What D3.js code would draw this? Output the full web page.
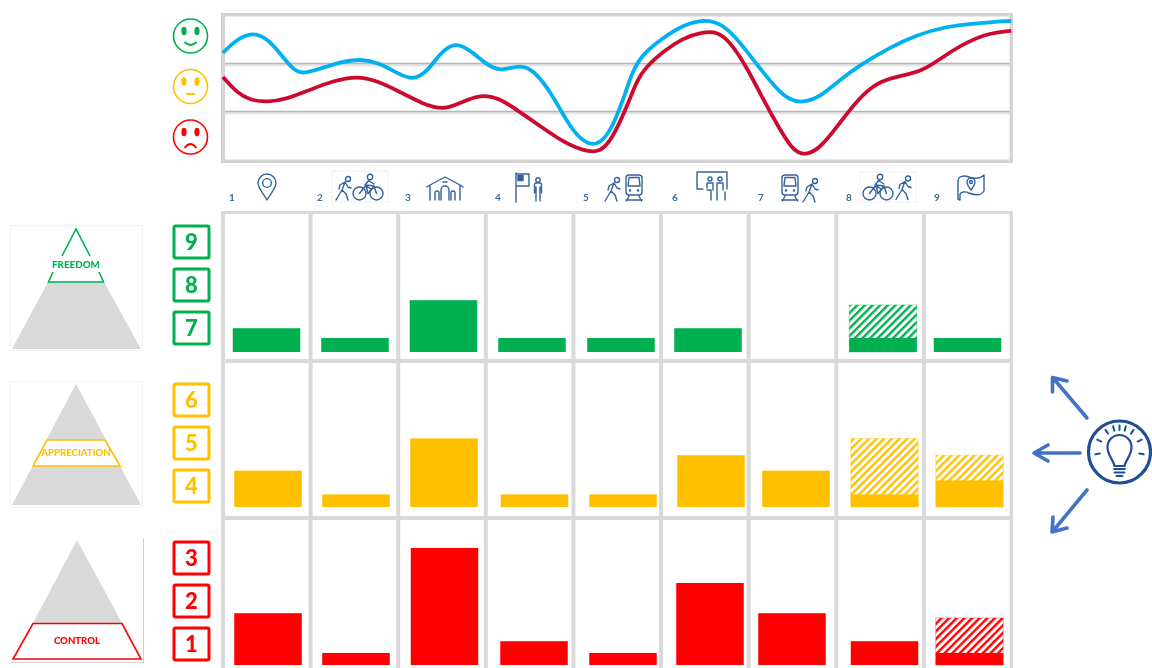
<!DOCTYPE html>
<html lang="en">
<head>
  <meta charset="UTF-8">
  <title>Journey satisfaction and needs</title>
  <script src="https://d3js.org/d3.v7.min.js"></script>
  <style>
    body { margin: 0; background: #fff; overflow: hidden; }
    svg { display: block; filter: blur(0.35px); }
    text { font-family: Lato, "Open Sans", sans-serif; font-weight: 900; }
    .stop { font-weight: 700; }
    .ic { fill: none; stroke: #33629c; stroke-width: 1.4; stroke-linecap: round; stroke-linejoin: round; }
  </style>
</head>
<body>
<svg id="chart" width="1152" height="668">
  <defs>
    <symbol id="walker" overflow="visible">
      <g class="ic"><circle cx="13" cy="3" r="2.5"/><path d="M10,6 L7,14 L1,24 M7,14 L11,18 L13,24 M10,6 L5,9 L4,13 M10,6 L13,11 L16,12"/></g>
    </symbol>
    <symbol id="bike" overflow="visible">
      <g class="ic"><circle cx="6.5" cy="19.5" r="6.5"/><circle cx="23.5" cy="19.5" r="6.5"/><circle cx="17" cy="3" r="2.7"/><path d="M6.5,19.5 L13,11 L21,12 L23.5,19.5 M13,11 L15,19.5 L21,12 M16,6 L12,11 L18,15 M16,7 L21,10"/></g>
    </symbol>
    <symbol id="train" overflow="visible">
      <g class="ic"><rect x="0" y="0" width="16" height="20" rx="3"/><path d="M3,2.5 H13 L14,11 H2 Z M3,21 L0.5,26 M13,21 L15.5,26 M0,25 H16"/><circle cx="4" cy="15.5" r=".6"/><circle cx="12" cy="15.5" r=".6"/></g>
    </symbol>
    <symbol id="pin" overflow="visible">
      <g class="ic"><path d="M9,26 C5,19 0,14 0,9 A9,9 0 0 1 18,9 C18,14 13,19 9,26 Z"/><circle cx="9" cy="9" r="4.4"/></g>
    </symbol>
    <symbol id="hall" overflow="visible">
      <g class="ic"><path d="M0,11 L3,9 L18,1 L33,9 L36,11 M3,10 V24 M33,10 V24 M8,24 V17 A2,2 0 0 1 12,17 V24 M24,24 V17 A2,2 0 0 1 28,17 V24 M14,24 V14 A4,4 0 0 1 22,14 V24 M16,6 H20"/></g>
    </symbol>
    <symbol id="flagman" overflow="visible">
      <g class="ic"><path d="M0,0 V29 M0,1 H13 V13 H0"/><rect x="2" y="2.5" width="5" height="5" fill="#33629c"/><circle cx="22" cy="7" r="2.2"/><path d="M18.5,20 V12 Q18.5,10 20,10 H24 Q25.5,10 25.5,12 V20 M20,14 V28 M24,14 V28"/></g>
    </symbol>
    <symbol id="board" overflow="visible">
      <g class="ic"><path d="M7,17 H1 V0 H31 V17 M11,18 H15 V28 M29,20 V28 M21,18 V28 M11,16 V11 H17 V18 M21,18 V11 H27 V18"/><circle cx="14" cy="7" r="2"/><circle cx="24" cy="7" r="2"/></g>
    </symbol>
    <symbol id="mapflag" overflow="visible">
      <g class="ic"><path d="M2,25 L0,24 V6 C0,1 6,0 11,2 C17,4 22,4 26,0 V16 C23,21 16,20 11,18 C7,16 3,17 2,19 Z"/><path d="M13,15 C11,12 9,10 9,7 A4,4 0 0 1 17,7 C17,10 15,12 13,15 Z"/><circle cx="13" cy="7" r="1.5"/></g>
    </symbol>
  </defs>
</svg>

<script>
  const categories = ["1", "2", "3", "4", "5", "6", "7", "8", "9"];
  const levels = ["FREEDOM", "APPRECIATION", "CONTROL"];
  const levelNumbers = [["9", "8", "7"], ["6", "5", "4"], ["3", "2", "1"]];
  const levelColors = ["#00b050", "#ffc000", "#ff0000"];

  // solid bars, share of answers
  const freedomValues = [17, 10, 37, 10, 10, 17, 0, 10, 10];
  const appreciationValues = [26, 9, 49, 9, 9, 37, 26, 9, 19];
  const controlValues = [37, 8.6, 83.6, 17, 8.6, 58.6, 37, 17, 8.6];
  // hatched part, top of the bar (0 = none)
  const freedomHatch = [0, 0, 0, 0, 0, 0, 0, 33.6, 0];
  const appreciationHatch = [0, 0, 0, 0, 0, 0, 0, 49, 37];
  const controlHatch = [0, 0, 0, 0, 0, 0, 0, 0, 33.6];

  // mood curves: position along the 9 stops, mood 0..3
  const blueStops = [.01,.17,.35,.51,.66,.81,.92,1.12,1.35,1.58,1.80,2.00,2.17,2.34,2.49,2.66,2.83,3.00,3.17,3.40,3.55,3.74,3.94,4.09,4.27,4.43,4.58,4.69,4.81,5.03,5.26,5.51,5.72,5.91,6.11,6.34,6.48,6.63,6.83,7.05,7.32,7.63,7.93,8.23,8.62,9.01];
  const blueMood = [2.23,2.52,2.66,2.54,2.23,1.88,1.79,1.90,2.04,2.11,2.02,1.81,1.66,1.83,2.23,2.46,2.29,2.02,1.83,1.99,1.88,1.46,.79,.42,.27,.56,1.25,1.88,2.22,2.54,2.81,2.94,2.83,2.46,1.98,1.46,1.25,1.19,1.31,1.67,2.02,2.35,2.60,2.77,2.85,2.90];
  const redStops = [.01,.17,.32,.51,.74,1.00,1.27,1.54,1.77,2.03,2.29,2.52,2.72,2.95,3.17,3.40,3.66,3.89,4.12,4.32,4.46,4.62,4.74,4.83,5.03,5.26,5.49,5.66,5.80,5.99,6.18,6.37,6.52,6.66,6.83,7.02,7.25,7.48,7.74,8.00,8.23,8.50,8.77,9.01];
  const redMood = [1.73,1.40,1.25,1.20,1.27,1.46,1.65,1.75,1.65,1.42,1.17,1.04,1.19,1.37,1.29,1.00,.67,.38,.19,.15,.46,1.10,1.67,1.92,2.25,2.54,2.67,2.67,2.46,1.94,1.25,.63,.19,.09,.25,.69,1.25,1.63,1.75,1.85,2.15,2.46,2.65,2.69];

  const svg = d3.select("#chart");
  const defs = svg.select("defs");

  // hatch patterns, one per level
  levelColors.forEach((c, i) => {
    const p = defs.append("pattern")
      .attr("id", `hatch${i}`)
      .attr("patternUnits", "userSpaceOnUse")
      .attr("width", 5.4).attr("height", 5.4)
      .attr("patternTransform", "rotate(45)");
    p.append("rect").attr("width", 5.4).attr("height", 5.4).attr("fill", "#fff");
    p.append("rect").attr("width", 2.4).attr("height", 5.4).attr("fill", c);
  });

  // ---- mood chart
  const moodX = d3.scaleLinear().domain([0, 9]).range([222, 1010.4]);
  const moodY = d3.scaleLinear().domain([0, 3]).range([160, 16]);

  svg.append("rect").attr("x", 221).attr("y", 13).attr("width", 792).attr("height", 150).attr("fill", "#d4d4d4");
  svg.append("rect").attr("x", 225).attr("y", 16.5).attr("width", 784.5).attr("height", 143).attr("fill", "#fff");

  [1, 2].forEach(m => {
    svg.append("line").attr("x1", 225).attr("x2", 1009.5)
      .attr("y1", moodY(m) + 1.2).attr("y2", moodY(m) + 1.2)
      .attr("stroke", "#e6e6e6").attr("stroke-width", 2.5);
    svg.append("line").attr("x1", 225).attr("x2", 1009.5)
      .attr("y1", moodY(m) - 0.5).attr("y2", moodY(m) - 0.5)
      .attr("stroke", "#b4b4b4").attr("stroke-width", 1.6);
  });

  const moodLine = d3.line()
    .x(d => moodX(d[0]))
    .y(d => moodY(d[1]))
    .curve(d3.curveBasis);

  svg.append("path")
    .attr("d", moodLine(d3.zip(blueStops, blueMood)))
    .attr("fill", "none").attr("stroke", "#00b0f0").attr("stroke-width", 3.8);
  svg.append("path")
    .attr("d", moodLine(d3.zip(redStops, redMood)))
    .attr("fill", "none").attr("stroke", "#cc0a2f").attr("stroke-width", 3.8);

  // smileys
  const faces = svg.selectAll("g.face").data(levelColors).enter().append("g")
    .attr("class", "face")
    .attr("transform", (d, i) => `translate(190.5,${[36, 86.5, 137][i]})`);
  faces.append("circle").attr("r", 17).attr("fill", "#fff").attr("stroke", d => d).attr("stroke-width", 1.6);
  faces.selectAll("ellipse").data(d => [[-6.5, d], [6.5, d]]).enter().append("ellipse")
    .attr("cx", d => d[0]).attr("cy", -5).attr("rx", 2.6).attr("ry", 4.2).attr("fill", d => d[1]);
  faces.append("path")
    .attr("d", (d, i) => ["M-6,6 Q0,12 6,6", "M-4.5,7.5 H4.5", "M-6,11 Q0,3 6,11"][i])
    .attr("fill", "none").attr("stroke", d => d).attr("stroke-width", 1.8);

  // ---- stop labels and icons
  const labelX = d3.scaleOrdinal(categories, [232, 320, 408, 498, 586, 675, 761, 849, 937]);
  svg.selectAll("text.stop").data(categories).enter().append("text")
    .attr("class", "stop")
    .attr("x", d => labelX(d)).attr("y", 201)
    .attr("text-anchor", "middle")
    .attr("font-size", 10).attr("fill", "#3f6c9e")
    .text(d => d);

  // light boxes behind the two mixed icons
  [[332, 171, 56, 31], [860, 172, 56, 30]].forEach(b => {
    svg.append("rect").attr("x", b[0]).attr("y", b[1]).attr("width", b[2]).attr("height", b[3])
      .attr("fill", "#fff").attr("stroke", "#eceff3");
  });
  const iconPlaces = [
    ["pin", 258, 174], ["walker", 335, 176], ["bike", 353, 174], ["hall", 427, 176],
    ["flagman", 516, 173], ["walker", 604, 177], ["train", 626, 175], ["board", 696, 172],
    ["train", 782, 175], ["walker", 802, 178], ["bike", 863, 174], ["walker", 895, 175.5],
    ["mapflag", 958, 175]
  ];
  iconPlaces.forEach(p => {
    svg.append("use").attr("href", `#${p[0]}`).attr("x", p[1]).attr("y", p[2]);
  });

  // ---- bar grid
  const rowTops = [214, 363, 520];
  const rowBottoms = [359, 516, 672];
  const baselines = [352, 507, 665];
  const columns = d3.scaleBand().domain(categories).range([225, 1009.5]).paddingInner(0.046);
  const barCenters = [
    d3.scaleOrdinal(categories, [266.5, 355, 443.5, 532, 621, 708, 794, 883, 967.5]),
    d3.scaleOrdinal(categories, [268, 356, 444, 534.5, 623, 711, 796, 884.5, 969.5]),
    d3.scaleOrdinal(categories, [268, 356, 444.5, 534, 623, 710, 792, 884.5, 969.5])
  ];
  const barWidth = 67.5;
  const share = d3.scaleLinear().domain([0, 100]).range([0, 140]);

  svg.append("rect").attr("x", 221).attr("y", 211).attr("width", 792).attr("height", 460).attr("fill", "#d9d9d9");

  const solid = [freedomValues, appreciationValues, controlValues];
  const hatch = [freedomHatch, appreciationHatch, controlHatch];

  levels.forEach((name, r) => {
    const row = svg.append("g");
    row.selectAll("rect.cell").data(categories).enter().append("rect")
      .attr("class", "cell")
      .attr("x", d => columns(d)).attr("width", columns.bandwidth())
      .attr("y", rowTops[r]).attr("height", rowBottoms[r] - rowTops[r])
      .attr("fill", "#fff");

    row.selectAll("rect.hatch").data(categories).enter().append("rect")
      .attr("class", "hatch")
      .attr("x", d => barCenters[r](d) - barWidth / 2)
      .attr("width", barWidth)
      .attr("y", (d, i) => baselines[r] - share(hatch[r][i]))
      .attr("height", (d, i) => share(hatch[r][i]))
      .attr("fill", `url(#hatch${r})`)
      .attr("stroke", levelColors[r]).attr("stroke-opacity", 0.35);

    row.selectAll("rect.solid").data(categories).enter().append("rect")
      .attr("class", "solid")
      .attr("x", d => barCenters[r](d) - barWidth / 2)
      .attr("width", barWidth)
      .attr("y", (d, i) => baselines[r] - share(solid[r][i]))
      .attr("height", (d, i) => share(solid[r][i]))
      .attr("fill", levelColors[r]);
  });

  // ---- numbered boxes
  const boxTops = [[226, 269, 312], [384, 427, 470], [542, 585, 628]];
  levels.forEach((name, r) => {
    levelNumbers[r].forEach((n, i) => {
      svg.append("rect")
        .attr("x", 174).attr("y", boxTops[r][i])
        .attr("width", 35).attr("height", 32).attr("rx", 1.5)
        .attr("fill", "#fff").attr("stroke", levelColors[r]).attr("stroke-width", 3);
      svg.append("text")
        .attr("x", 191.5).attr("y", boxTops[r][i] + 23.5)
        .attr("text-anchor", "middle")
        .attr("font-size", 22).attr("fill", levelColors[r])
        .text(n);
    });
  });

  // ---- pyramids
  const grey = "#d9d9d9";
  function poly(g, pts, fill, stroke) {
    g.append("polygon").attr("points", pts.join(" "))
      .attr("fill", fill).attr("stroke", stroke || "none").attr("stroke-width", 1.6);
  }
  function plate(x, y, w, h, stroke) {
    svg.append("rect").attr("x", x).attr("y", y).attr("width", w).attr("height", h)
      .attr("fill", "#fff").attr("stroke", stroke);
  }
  plate(10.5, 225.5, 132, 125, "#f1f1f1");
  plate(10.5, 381.5, 132, 126, "#f1f1f1");
  svg.append("path").attr("d", "M143.5,538 V662.5 H11").attr("fill", "none").attr("stroke", "#cfcfcf");

  poly(svg, ["48,282", "104,282", "141,349", "12,349"], grey);
  svg.append("path").attr("d", "M62,256 L76,229 L90,256 M53,272 L48.5,282 H103.5 L99,272")
    .attr("fill", "none").attr("stroke", levelColors[0]).attr("stroke-width", 1.6);

  poly(svg, ["76,384", "141,505", "12,505"], grey);
  poly(svg, ["47,440", "105,440", "120,466", "33,466"], "#fff", levelColors[1]);

  poly(svg, ["77,540", "122,623", "33,623"], grey);
  poly(svg, ["33,623.5", "122,623.5", "141,659", "13,659"], "#fff", levelColors[2]);

  const pyramidText = [[76, 267.5, 9.8], [76, 456, 9.6], [77, 644, 9.6]];
  levels.forEach((name, r) => {
    svg.append("text")
      .attr("x", pyramidText[r][0]).attr("y", pyramidText[r][1])
      .attr("text-anchor", "middle")
      .attr("font-size", pyramidText[r][2]).attr("fill", levelColors[r])
      .text(name);
  });

  // ---- idea icon and arrows
  const bulb = svg.append("g").attr("transform", "translate(1119.5,452)")
    .attr("fill", "none").attr("stroke", "#1f4e96").attr("stroke-linecap", "round");
  bulb.append("circle").attr("r", 31).attr("stroke-width", 3.2);
  bulb.append("path").attr("stroke-width", 2.2)
    .attr("d", "M-5,14 C-6,8 -12,4 -12,-5 A12,12 0 0 1 12,-5 C12,4 6,8 5,14 Z");
  bulb.append("path").attr("stroke-width", 1.8).attr("d", "M-5.5,17 H5.5 M-5,20.5 H5 M-3,24 H3");
  [-100, -65, -35, -15, 0, 15, 35, 65, 100].forEach(a => {
    const t = a * Math.PI / 180;
    bulb.append("line").attr("stroke-width", 2)
      .attr("x1", 20 * Math.sin(t)).attr("y1", -20 * Math.cos(t) - 2)
      .attr("x2", 24.5 * Math.sin(t)).attr("y2", -24.5 * Math.cos(t) - 2);
  });

  const arrows = [
    "M1087,418 L1053,378 M1052.5,392 L1052.5,377.5 L1067,381",
    "M1080,453 H1035 M1048,445 L1034,453 L1048,461",
    "M1087,490 L1053,531 M1053,517 L1052,532 L1067,528"
  ];
  svg.selectAll("path.arrow").data(arrows).enter().append("path")
    .attr("class", "arrow").attr("d", d => d)
    .attr("fill", "none").attr("stroke", "#4472c4")
    .attr("stroke-width", 3.6).attr("stroke-linecap", "round").attr("stroke-linejoin", "round");
</script>
</body>
</html>
